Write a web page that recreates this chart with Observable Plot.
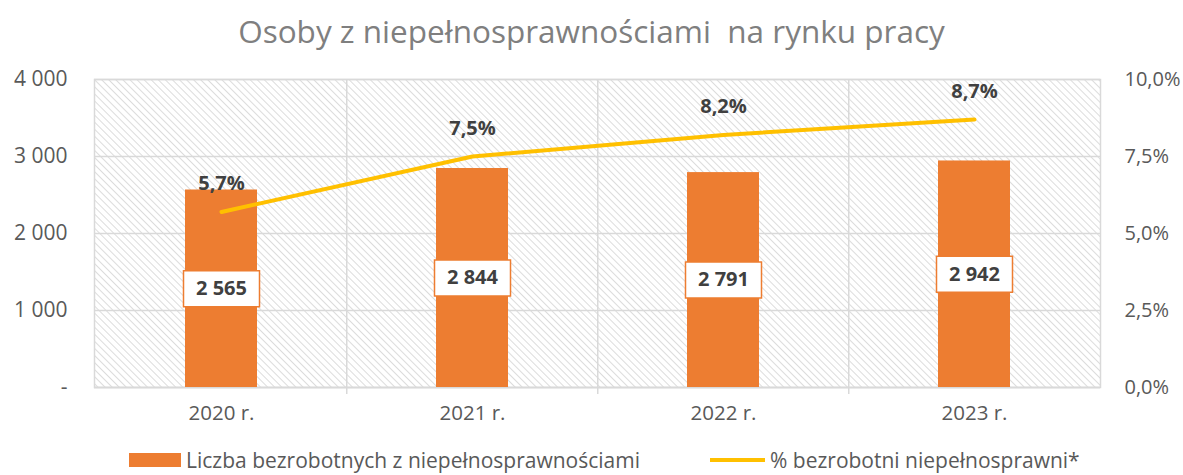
<!DOCTYPE html>
<html><head><meta charset="utf-8">
<script src="https://cdn.jsdelivr.net/npm/d3@7"></script>
<script src="https://cdn.jsdelivr.net/npm/@observablehq/plot@0.6"></script>
<style>
body{margin:0;background:#fff;font-family:"Open Sans",sans-serif;}
#wrap{position:relative;width:1183px;height:475px;overflow:hidden;}
#title{position:absolute;top:9px;left:0;width:1183px;text-align:center;font-size:31.5px;line-height:44px;color:#7f7f7f;white-space:pre;font-weight:400;}
#chart{position:absolute;top:0;left:0;}
#legend{position:absolute;top:448px;left:0;width:1183px;height:26px;font-size:21px;line-height:24px;color:#595959;}
.lg{position:absolute;top:0;height:24px;display:flex;align-items:center;white-space:nowrap;}
</style></head>
<body><div id="wrap">
<div id="title">Osoby z niepełnosprawnościami  na rynku pracy</div>
<div id="chart"></div>
<div id="legend">
<div class="lg" style="left:129px"><span style="display:inline-block;width:52px;height:14px;background:#ED7D31;margin-right:5px"></span>Liczba bezrobotnych z niepełnosprawnościami</div>
<div class="lg" style="left:710px"><span style="display:inline-block;width:55px;height:4px;background:#FFC000;margin-right:5px"></span>% bezrobotni niepełnosprawni*</div>
</div>
</div>
<script>
const years = ["2020 r.", "2021 r.", "2022 r.", "2023 r."];
const counts = [2565, 2844, 2791, 2942];
const pcts = [5.7, 7.5, 8.2, 8.7];
const leftTicks = [0, 1000, 2000, 3000, 4000];
const rightTicks = [0, 2.5, 5, 7.5, 10];

const countMax = 4000, pctMax = 10;
const toCount = p => p / pctMax * countMax;
const data = years.map((y, i) => ({year: y, count: counts[i], pct: pcts[i], pctY: toCount(pcts[i])}));

const W = 1183, H = 445, mL = 94, mR = 83;
const step = (W - mL - mR) / years.length;
const boxSymbol = {draw(ctx) { ctx.moveTo(-38, -18); ctx.lineTo(38, -18); ctx.lineTo(38, 18); ctx.lineTo(-38, 18); ctx.closePath(); }};
const fmtCount = d => d === 0 ? "-" : d3.format(",")(d).replace(/,/g, " ");
const fmtPct = d => d.toFixed(1).replace(".", ",") + "%";

const chart = Plot.plot({
  width: W, height: H,
  marginLeft: mL, marginRight: mR, marginTop: 79, marginBottom: H - 387,
  style: {fontFamily: "'Open Sans', sans-serif", color: "#595959", background: "transparent"},
  x: {domain: years, paddingInner: 0.714, paddingOuter: 0.357, label: null},
  y: {domain: [0, countMax], label: null},
  marks: [
    Plot.frame({fill: "url(#hatch)", stroke: "#d9d9d9", strokeWidth: 1.5}),
    Plot.gridY(leftTicks, {stroke: "#d9d9d9", strokeOpacity: 1, strokeWidth: 1.5}),
    Plot.ruleX(years.slice(1), {dx: -step / 2, stroke: "#d9d9d9", strokeWidth: 1.5, insetBottom: -7}),
    Plot.ruleY([0], {stroke: "#d9d9d9", strokeWidth: 1.5}),
    Plot.barY(data, {x: "year", y: "count", fill: "#ED7D31"}),
    Plot.line(data, {x: "year", y: "pctY", stroke: "#FFC000", strokeWidth: 4}),
    Plot.dot(data, {x: "year", y: d => d.count / 2, symbol: boxSymbol, fill: "white", stroke: "#ED7D31", strokeWidth: 1.5, r: 10}),
    Plot.text(data, {x: "year", y: d => d.count / 2, text: d => fmtCount(d.count), fontSize: 20, fontWeight: "bold", fill: "#404040"}),
    Plot.text(data, {x: "year", y: "pctY", text: d => fmtPct(d.pct), dy: -28, fontSize: 20, fontWeight: "bold", fill: "#404040"}),
    Plot.axisY(leftTicks, {anchor: "left", tickSize: 0, tickPadding: 27, tickFormat: fmtCount, fontSize: 21, fill: "#595959"}),
    Plot.axisY(rightTicks.map(toCount), {anchor: "right", tickSize: 0, tickPadding: 24, tickFormat: d => fmtPct(d / countMax * pctMax), fontSize: 20, fill: "#595959"}),
    Plot.axisX({tickSize: 0, tickPadding: 18, fontSize: 20.5, fill: "#595959"})
  ]
});

const svg = d3.select(chart);
const defs = svg.insert("defs", ":first-child");
const pat = defs.append("pattern").attr("id", "hatch").attr("patternUnits", "userSpaceOnUse")
  .attr("width", 5).attr("height", 5).attr("patternTransform", "rotate(-45)");
pat.append("rect").attr("width", 5).attr("height", 5).attr("fill", "#ffffff");
pat.append("line").attr("x1", 0).attr("y1", 0).attr("x2", 0).attr("y2", 5).attr("stroke", "#d4d4d4").attr("stroke-width", 1.6);
document.getElementById("chart").appendChild(chart);
</script>
</body></html>
